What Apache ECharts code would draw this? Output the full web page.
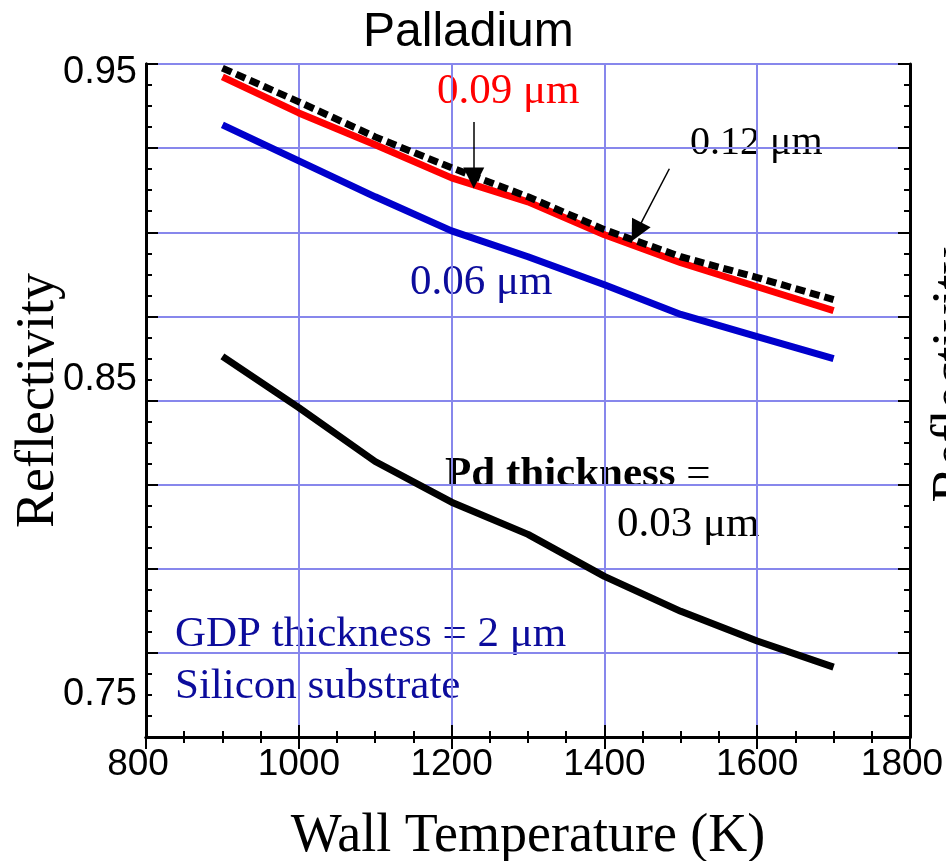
<!DOCTYPE html>
<html>
<head>
<meta charset="utf-8">
<script src="https://cdn.jsdelivr.net/npm/echarts@6/dist/echarts.min.js"></script>
<style>
  html, body { margin: 0; padding: 0; background: #fff; }
  #chart { width: 946px; height: 861px; }
</style>
</head>
<body>
<div id="chart"></div>
<script>
// wall temperature (K)
var temps = [900, 1000, 1100, 1200, 1300, 1400, 1500, 1600, 1700];
// reflectivity per Pd thickness
var pd003 = [0.8573, 0.8411, 0.8240, 0.8111, 0.8009, 0.7876, 0.7765, 0.7671, 0.7588];
var pd006 = [0.9307, 0.9193, 0.9079, 0.8971, 0.8889, 0.8800, 0.8706, 0.8636, 0.8566];
var pd009 = [0.9459, 0.9345, 0.9244, 0.9139, 0.9063, 0.8959, 0.8870, 0.8794, 0.8718];
var pd012 = [0.9487, 0.9380, 0.9269, 0.9171, 0.9079, 0.8975, 0.8889, 0.8823, 0.8753];
var yLabels = [0.75, 0.85, 0.95];

var yMin = 0.7366667, yMax = 0.95;
var gridBlue = '#8787ec';
var navy = '#0c0c9c';
var serif = '"Liberation Serif", "Times New Roman", serif';
var sans = '"Liberation Sans", Arial, sans-serif';

function pairs(ys) {
    return temps.map(function (t, i) { return [t, ys[i]]; });
}

var chart = echarts.init(document.getElementById('chart'));

var tickCommon = {
    axisLine: { show: true, lineStyle: { color: '#000', width: 3 } },
    axisTick: { show: true, inside: true, length: 12, lineStyle: { color: '#000', width: 2 } },
    minorTick: { show: true, splitNumber: 4, length: 6, lineStyle: { color: '#000', width: 2 } }
};

var option = {
    animation: false,
    grid: { left: 146, right: 36, top: 64, bottom: 124, outerBoundsMode: 'none', containLabel: false },
    xAxis: [
        Object.assign({
            type: 'value', min: 800, max: 1800, interval: 200, position: 'bottom',
            name: 'Wall Temperature (K)', nameLocation: 'middle', nameGap: 73,
            nameTextStyle: { fontFamily: serif, fontSize: 54, color: '#000' },
            axisLabel: {
                fontFamily: sans, fontSize: 37, color: '#000', margin: 9,
                formatter: function (v) {
                    if (v === 1800) return '{e|1800}';
                    if (v === 800) return '{s|800}';
                    return String(v);
                },
                rich: {
                    e: { fontFamily: sans, fontSize: 37, color: '#000', padding: [0, 16, 0, 0] },
                    s: { fontFamily: sans, fontSize: 37, color: '#000', padding: [0, 16, 0, 0] }
                }
            },
            splitLine: { show: true, lineStyle: { color: gridBlue, width: 2 } }
        }, tickCommon),
        Object.assign({
            type: 'value', min: 800, max: 1800, interval: 200, position: 'top',
            axisLabel: { show: false }, splitLine: { show: false }
        }, tickCommon)
    ],
    yAxis: [
        {
            type: 'value', min: yMin, max: yMax, position: 'left',
            name: 'Reflectivity', nameLocation: 'middle', nameGap: 80, nameMoveOverlap: false,
            nameTextStyle: { fontFamily: serif, fontSize: 54, color: '#000' },
            axisLine: { show: true, lineStyle: { color: '#000', width: 3 } },
            axisTick: { show: false },
            splitLine: { show: false },
            axisLabel: {
                customValues: yLabels, fontFamily: sans, fontSize: 38, color: '#000', margin: 9,
                formatter: function (v) {
                    return v >= 0.95 ? '{t|0.95}' : v.toFixed(2);
                },
                rich: { t: { fontFamily: sans, fontSize: 38, color: '#000', padding: [18, 0, 0, 0] } }
            }
        },
        Object.assign({
            type: 'value', min: 0, max: 8, interval: 1, position: 'left',
            axisLabel: { show: false },
            splitLine: { show: true, lineStyle: { color: gridBlue, width: 2 } }
        }, tickCommon),
        Object.assign({
            type: 'value', min: 0, max: 8, interval: 1, position: 'right',
            axisLabel: { show: false }, splitLine: { show: false }
        }, tickCommon)
    ],
    graphic: [
        { type: 'text', left: 363, top: 9, style: { text: 'Palladium', font: '48px ' + sans, fill: '#000' } },
        { type: 'text', x: 437, y: 92, style: { text: '0.09 μm', font: '43px ' + serif, fill: '#ff0000', textVerticalAlign: 'middle' } },
        { type: 'text', x: 690, y: 143, style: { text: '0.12 μm', font: '40px ' + serif, fill: '#000', textVerticalAlign: 'middle' } },
        { type: 'text', x: 410, y: 283, style: { text: '0.06 μm', font: '43px ' + serif, fill: navy, textVerticalAlign: 'middle' } },
        {
            type: 'text', x: 445, y: 475,
            style: {
                text: '{b|Pd thickness} =', font: '43px ' + serif, fill: '#000', textVerticalAlign: 'middle',
                rich: { b: { fontFamily: serif, fontSize: 43, fontWeight: 'bold' } }
            }
        },
        { type: 'text', x: 617, y: 525, style: { text: '0.03 μm', font: '43px ' + serif, fill: '#000', textVerticalAlign: 'middle' } },
        { type: 'text', x: 175, y: 635, style: { text: 'GDP thickness = 2 μm', font: '43px ' + serif, fill: navy, textVerticalAlign: 'middle' } },
        { type: 'text', x: 175, y: 687, style: { text: 'Silicon substrate', font: '43px ' + serif, fill: navy, textVerticalAlign: 'middle' } },
        // neighbouring panel's axis title, cut by the right edge
        { type: 'text', x: 955, y: 375, rotation: Math.PI / 2, style: { text: 'Reflectivity', font: '54px ' + serif, fill: '#000', textAlign: 'center', textVerticalAlign: 'middle' } }
    ],
    series: [
        {
            name: '0.03', type: 'line', data: pairs(pd003), showSymbol: false, symbol: 'none',
            lineStyle: { color: '#000', width: 7 }
        },
        {
            name: '0.06', type: 'line', data: pairs(pd006), showSymbol: false, symbol: 'none',
            lineStyle: { color: '#0000cc', width: 7 }
        },
        {
            name: '0.09', type: 'line', data: pairs(pd009), showSymbol: false, symbol: 'none',
            lineStyle: { color: '#ff0000', width: 7 },
            markLine: {
                silent: true, symbol: ['none', 'triangle'], symbolSize: [21, 21],
                label: { show: false },
                lineStyle: { color: '#000', width: 1.5, type: 'solid' },
                data: [[{ coord: [1229, 0.9316] }, { coord: [1229, 0.9139] }]]
            }
        },
        {
            name: '0.12', type: 'line', data: pairs(pd012), showSymbol: false, symbol: 'none',
            lineStyle: { color: '#000', width: 7, type: [10, 5] },
            markLine: {
                silent: true, symbol: ['none', 'triangle'], symbolSize: [21, 21],
                label: { show: false },
                lineStyle: { color: '#000', width: 1.5, type: 'solid' },
                data: [[{ coord: [1485, 0.9168] }, { coord: [1442, 0.8968] }]]
            }
        }
    ]
};
chart.setOption(option);
</script>
</body>
</html>
